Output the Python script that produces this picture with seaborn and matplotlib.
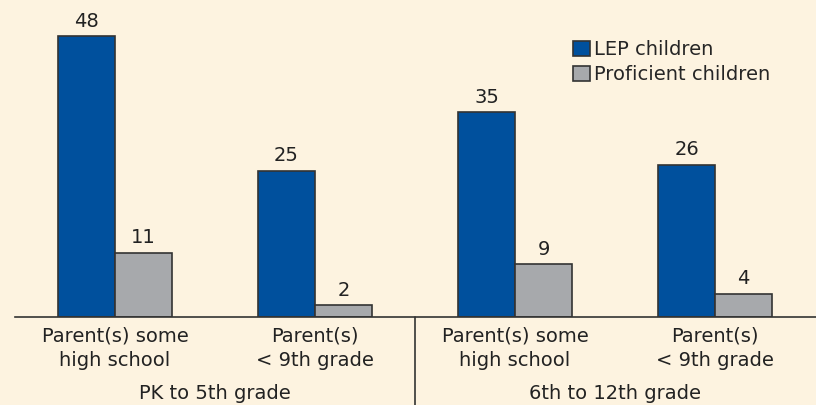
import pandas as pd
import seaborn as sns
import matplotlib.pyplot as plt

# values
groups = ["PK to 5th grade", "6th to 12th grade"]
education = ["Parent(s) some\nhigh school", "Parent(s)\n< 9th grade"]
series = ["LEP children", "Proficient children"]
lep = [48, 25, 35, 26]
proficient = [11, 2, 9, 4]

keys = [g + " | " + e for g in groups for e in education]
df = pd.DataFrame({
    "key": keys * 2,
    "series": [series[0]] * 4 + [series[1]] * 4,
    "value": lep + proficient,
})

bg = "#fdf3e0"
sns.set_theme(style="white", rc={"axes.facecolor": bg, "figure.facecolor": bg})
plt.rcParams["font.family"] = ["DejaVu Sans"]

fig = plt.figure(figsize=(8.16, 4.05), dpi=100)
ax = fig.add_axes([15 / 816, 88 / 405, 1 - 15 / 816, 317 / 405])

sns.barplot(data=df, x="key", y="value", hue="series", order=keys, hue_order=series,
            palette=["#00509d", "#a7a9ac"], saturation=1, width=0.57, gap=0,
            edgecolor="#333333", linewidth=1.2, ax=ax)

for c in ax.containers:
    ax.bar_label(c, fmt="%d", padding=4, fontsize=14, color="#222222")

ax.set_xlim(-0.5, 3.505)
ax.set_ylim(0, 54.2)
ax.set_xlabel("")
ax.set_ylabel("")
ax.set_yticks([])
ax.set_xticks(range(4))
ax.set_xticklabels(education * 2, fontsize=14, color="#222222", linespacing=1.35)
ax.tick_params(axis="x", length=0, pad=7)
for s in ["top", "left", "right"]:
    ax.spines[s].set_visible(False)
ax.spines["bottom"].set_color("#333333")
ax.spines["bottom"].set_linewidth(1.2)

# group labels and separator below the axis
for i, g in enumerate(groups):
    ax.text(0.5 + 2 * i, -0.24, g, transform=ax.get_xaxis_transform(),
            ha="center", va="center", fontsize=14, color="#222222")
ax.axvline(1.5, ymin=-0.3, ymax=0, color="#333333", lw=1.2, clip_on=False)

handles, labels = ax.get_legend_handles_labels()
ax.legend(handles, labels, loc="upper left", bbox_to_anchor=(573 / 816, 1 - 40 / 405),
          bbox_transform=fig.transFigure, frameon=False, fontsize=14,
          handlelength=0.85, handleheight=0.8, handletextpad=0.25,
          labelspacing=0.3, borderpad=0, borderaxespad=0)

fig.savefig("out.png", dpi=100, facecolor=bg)
